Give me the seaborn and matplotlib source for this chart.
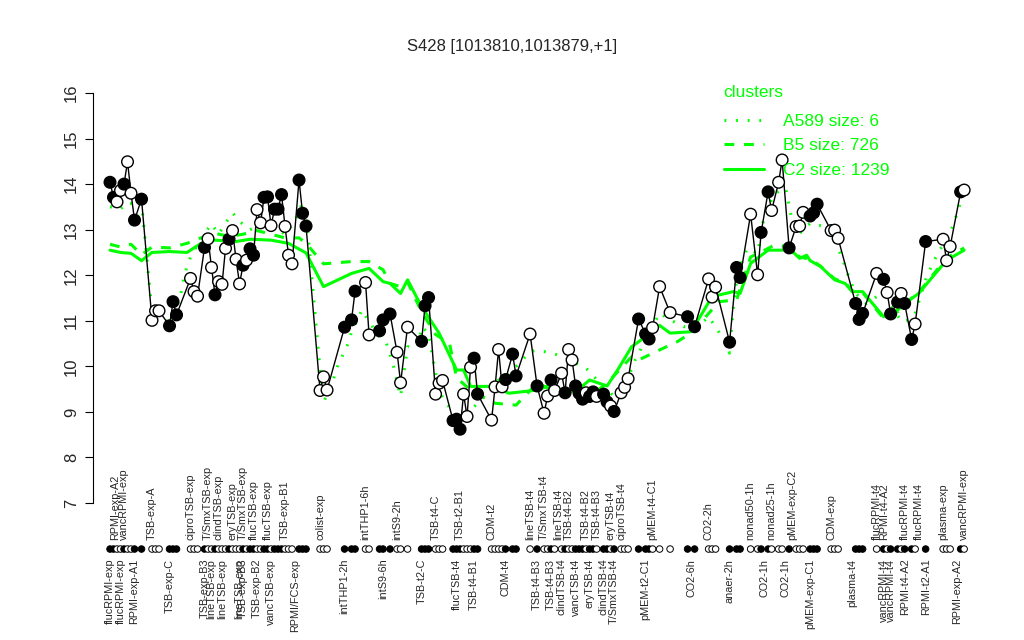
import matplotlib
matplotlib.use("Agg")
import matplotlib.pyplot as plt
import matplotlib.transforms as mtransforms
import pandas as pd
import seaborn as sns

# expression points: slot position, value, filled marker or not
slots = [0, 1, 2, 3, 4, 5, 6, 7, 9, 12, 13, 14, 17, 18, 19, 23, 24, 25,
         27, 28, 29, 30, 31, 32, 33, 34, 35, 36, 37, 38, 39, 40, 41, 42, 43, 44,
         45, 46, 47, 48, 49, 50, 51, 52, 54, 55, 56, 60, 61, 62, 67, 69, 70,
         73, 74, 77, 78, 80, 82, 83, 85, 89, 90, 91, 93, 94, 95, 98, 99, 100,
         101, 102, 103, 104, 105, 109, 110, 111, 112, 113, 115, 116, 120, 122,
         124, 125, 126, 127, 129, 130, 131, 132, 133, 134, 135, 136, 137, 138,
         139, 141, 142, 143, 144, 146, 147, 148, 151, 153, 154, 155, 157, 160,
         165, 167, 171, 172, 173, 177, 179, 180, 183, 185, 186, 188, 189, 191,
         192, 194, 196, 197, 198, 200, 201, 202, 206, 207, 208, 213, 214, 215,
         219, 221, 222, 223, 225, 226, 227, 229, 230, 233, 238, 239, 240, 243, 244]
values = [14.04, 13.71, 13.61, 13.86, 14.00, 14.49, 13.80, 13.21, 13.67, 11.01, 11.22, 11.22,
          10.89, 11.42, 11.13, 11.93, 11.64, 11.54,
          12.61, 12.80, 12.17, 11.57, 11.86, 11.80, 12.59, 12.79, 12.98, 12.35, 11.81, 12.22,
          12.33, 12.58, 12.44, 13.44, 13.15, 13.71,
          13.72, 13.09, 13.45, 13.45, 13.77, 13.07, 12.44, 12.25, 14.09, 13.36, 13.08, 9.47,
          9.77, 9.48, 10.86, 11.02, 11.65,
          11.84, 10.69, 10.78, 11.02, 11.15, 10.31, 9.64, 10.86, 10.55, 11.33, 11.51, 9.39,
          9.63, 9.69, 8.81, 8.84, 8.62,
          9.39, 8.90, 9.98, 10.18, 9.39, 8.82, 9.55, 10.37, 9.55, 9.71, 10.27, 9.79, 10.71, 9.57,
          8.97, 9.35, 9.70, 9.47, 9.85, 9.42, 10.37, 10.14, 9.57, 9.41, 9.28, 9.42, 9.34, 9.44,
          9.34, 9.39, 9.22, 9.13, 9.01, 9.42, 9.54, 9.73, 11.04, 10.71, 10.60, 10.85, 11.75, 11.18,
          11.09, 10.87, 11.92, 11.52, 11.74, 10.53, 12.17, 11.95, 13.34, 12.01, 12.94, 13.83,
          13.42, 14.04,
          14.53, 12.60, 13.07, 13.08, 13.38, 13.30, 13.37, 13.56, 12.98, 12.99, 12.81, 11.38,
          11.03, 11.16,
          12.04, 11.91, 11.62, 11.15, 11.41, 11.60, 11.38, 10.59, 10.93, 12.74, 12.79, 12.32,
          12.63, 13.83, 13.87]
filled = [1, 1, 0, 0, 1, 0, 0, 1, 1, 0, 0, 0, 1, 1, 1, 0, 0, 0,
          1, 0, 0, 1, 0, 0, 0, 1, 0, 0, 0, 1, 0, 1, 1, 0, 0, 1,
          1, 0, 1, 1, 1, 0, 0, 0, 1, 1, 1, 0, 0, 0, 1, 1, 1,
          0, 0, 1, 1, 1, 0, 0, 0, 1, 1, 1, 0, 0, 0, 1, 1, 1,
          0, 0, 0, 1, 1, 0, 0, 0, 0, 1, 1, 1, 0, 1,
          0, 0, 1, 0, 0, 1, 0, 0, 1, 1, 1, 0, 1, 1,
          0, 1, 1, 0, 1, 0, 0, 0, 1, 1, 1, 0, 0, 0,
          1, 1, 0, 0, 0, 1, 1, 1, 0, 0, 1, 1, 0, 0,
          0, 1, 0, 0, 0, 1, 1, 1, 0, 0, 0, 1, 1, 1,
          0, 1, 0, 1, 1, 0, 1, 1, 0, 1, 0, 0, 0, 1, 0]

# cluster mean profiles (slot, value)
c2_slots = [0, 3, 6, 9, 12, 17, 22, 26, 30, 36, 40, 46, 51, 56, 61, 69, 74, 78, 80, 83, 85,
            89, 94, 99, 101, 103, 109, 114, 122, 125, 129, 133, 137, 142, 145, 149, 153,
            157, 160, 166, 172, 178, 180, 183, 188, 192, 194, 197, 199, 200, 203, 207, 210,
            212, 215, 221, 225, 229, 231, 239, 244]
c2_values = [12.55, 12.5, 12.48, 12.32, 12.5, 12.52, 12.5, 12.7, 12.77, 12.74, 12.79, 12.77,
             12.7, 12.49, 11.75, 12.04, 12.15, 11.86, 11.82, 11.6, 11.9,
             11.31, 10.73, 9.92, 9.92, 9.56, 9.56, 9.41, 9.48, 9.56, 9.48, 9.44, 9.70, 9.57,
             9.92, 10.43, 10.65, 10.9, 10.73, 10.76, 11.53, 11.64, 11.6, 12.26, 12.55, 12.55,
             12.59, 12.37, 12.44, 12.32, 12.19, 11.9, 11.82, 11.64, 11.64, 11.09, 11.24,
             11.49, 11.6, 12.33, 12.55]
b5_slots = [0, 3, 6, 9, 12, 17, 22, 26, 30, 34, 38, 42, 46, 50, 54, 56, 61, 69, 74, 78, 80,
            83, 85, 89, 93, 97, 99, 103, 110, 116, 122, 126, 130, 137, 142, 149, 151, 157,
            162, 166, 174, 179, 183, 187, 190, 194, 197, 200, 203, 207, 210, 212, 215, 221,
            225, 229, 231, 239, 244]
b5_values = [12.68, 12.62, 12.68, 12.45, 12.62, 12.6, 12.7, 12.82, 12.92, 12.85, 12.9, 12.98,
             12.9, 12.82, 12.82, 12.7, 12.25, 12.3, 12.3, 12.12, 11.82,
             11.75, 11.85, 11.2, 10.7, 10.5, 9.75, 9.48, 9.19, 9.15, 9.63, 9.5, 9.48, 9.34,
             9.63, 10.21, 10.14, 10.36, 10.54, 10.73, 11.42, 11.46, 12.4, 12.55, 12.67, 12.62,
             12.4, 12.35, 12.2, 11.92, 11.84, 11.66, 11.62, 11.05, 11.2, 11.5, 11.62, 12.38,
             12.6]
a589_slots = [0, 3, 5, 7, 9, 12, 14, 17, 19, 20, 21, 22, 23, 26, 29, 31, 34, 35, 37, 40, 43,
              46, 48, 50, 53, 55, 56, 60, 61, 63, 65, 68, 69, 72, 74, 77, 79, 81, 83, 85,
              88, 89, 91, 93, 95, 99, 103, 108, 111, 113, 116, 120, 122, 126, 130, 133, 136,
              140, 144, 147, 150, 153, 157, 160, 164, 168, 171, 173, 176, 177, 178, 179, 180,
              182, 185, 187, 190, 193, 195, 197, 200, 204, 207, 209, 211, 213, 216, 219, 222,
              226, 228, 230, 233, 235, 237, 240, 242, 243]
a589_values = [13.5, 13.45, 13.6, 13.55, 13.6, 11.2, 11.0, 11.0, 11.3, 11.5, 11.9, 12.2, 12.4,
               12.8, 13.13, 12.9, 13.26, 13.37, 13.18, 13.0, 13.1,
               13.0, 13.0, 12.9, 13.2, 13.6, 13.4, 9.92, 9.22, 9.52, 10.0, 10.5, 10.76, 11.24,
               10.98, 10.65, 10.5, 10.0, 9.34, 10.43,
               10.43, 10.87, 10.73, 9.85, 9.3, 8.9, 9.04, 9.41, 9.7, 9.77, 10.0, 10.32, 10.36,
               10.29, 10.21, 10.07, 9.96,
               9.63, 9.34, 9.55, 10.14, 10.58, 11.17, 11.02, 10.87, 10.87, 11.09, 10.87, 10.5,
               10.29, 11.24, 11.9, 12.19,
               12.59, 12.48, 13.36, 13.8, 13.91, 13.14, 12.92, 13.14, 13.07, 12.74, 12.41,
               11.97, 11.6, 11.38, 11.53, 11.53,
               10.98, 11.02, 11.16, 11.9, 12.26, 12.55, 12.92, 13.36, 13.61]

# condition labels above and below the marker strip
upper_pos = [1.5, 4, 12, 23, 28, 31, 35, 38, 41, 45, 50, 60, 73, 82, 93, 100, 109, 120, 124,
             128, 131, 136, 139, 143, 146, 155, 171, 183, 189, 195, 206, 219, 221, 227, 231,
             238, 244]
upper_text = ["RPMI-exp-A2", "vancRPMI-exp", "TSB-exp-A", "ciproTSB-exp", "T/SmxTSB-exp",
              "clindTSB-exp", "eryTSB-exp", "T/SmxTSB-exp", "flucTSB-exp", "flucTSB-exp",
              "TSB-exp-B1", "colist-exp", "intTHP1-6h", "intS9-2h", "TSB-t4-C", "TSB-t2-B1",
              "CDM-t2", "lineTSB-t4", "T/SmxTSB-t4", "lineTSB-t4", "TSB-t4-B2", "TSB-t4-B2",
              "TSB-t4-B3", "eryTSB-t4", "ciproTSB-t4", "pMEM-t4-C1", "CO2-2h", "nonad50-1h",
              "nonad25-1h", "pMEM-exp-C2", "CDM-exp", "flucRPMI-t4", "RPMI-t4-A2",
              "flucRPMI-t4", "flucRPMI-t4", "plasma-exp", "vancRPMI-exp"]
lower_pos = [0, 3, 7, 17, 27, 29, 32, 37, 38, 42, 46, 53, 67, 78, 89, 99, 104, 113, 122, 126,
             129, 133, 137, 141, 144, 153, 166, 177, 187, 193, 200, 212, 221, 223, 227, 233, 242]
lower_text = ["flucRPMI-exp", "flucRPMI-exp", "RPMI-exp-A1", "TSB-exp-C", "TSB-exp-B3",
              "lineTSB-exp", "lineTSB-exp", "lineTSB-exp", "TSB-exp-B3", "TSB-exp-B2",
              "vancTSB-exp", "RPMI/FCS-exp", "intTHP1-2h", "intS9-6h", "TSB-t2-C",
              "flucTSB-t4", "TSB-t4-B1", "CDM-t4", "TSB-t4-B3", "TSB-t4-B3", "clindTSB-t4",
              "vancTSB-t4", "eryTSB-t4", "clindTSB-t4", "T/SmxTSB-t4", "pMEM-t2-C1", "CO2-6h",
              "anaer-2h", "CO2-1h", "CO2-1h", "pMEM-exp-C1", "plasma-t4", "vancRPMI-t4",
              "vancRPMI-t4", "RPMI-t4-A2", "RPMI-t2-A1", "RPMI-exp-A2"]

df = pd.DataFrame({"slot": slots, "value": values, "filled": [bool(f) for f in filled]})

sns.set_style("white")
plt.rcParams['font.family'] = ['Liberation Sans', 'DejaVu Sans']
GREEN = "#00FF00"

fig = plt.figure(figsize=(10.24, 6.4), dpi=100)
ax = fig.add_axes([93 / 1024, 1 - 520 / 640, 882 / 1024, 440 / 640])

# cluster lines
sns.lineplot(x=a589_slots, y=a589_values, ax=ax, color=GREEN, lw=2.2,
             linestyle=(0, (0.6, 3.2)), label="A589 size: 6")
sns.lineplot(x=b5_slots, y=b5_values, ax=ax, color=GREEN, lw=2.2,
             linestyle=(0, (3.2, 3.2)), label="B5 size: 726")
sns.lineplot(x=c2_slots, y=c2_values, ax=ax, color=GREEN, lw=2.2,
             label="C2 size: 1239")

# gene profile
sns.lineplot(data=df, x="slot", y="value", ax=ax, color="black", lw=1.0, legend=False)
sns.scatterplot(data=df, x="slot", y="value", hue="filled", ax=ax,
                palette={True: "black", False: "white"}, edgecolor="black",
                linewidth=1.0, s=70, legend=False, zorder=5)

# marker strip under the plot
strip = mtransforms.blended_transform_factory(ax.transData, ax.transAxes)
ax.scatter(df["slot"], [-0.066] * len(df), transform=strip, s=22, clip_on=False,
           c=["black" if f else "white" for f in df["filled"]], edgecolors="black",
           linewidths=0.7, zorder=5)
for p, t in zip(upper_pos, upper_text):
    ax.text(p, -0.046, t, transform=strip, rotation=90, ha="center", va="bottom", fontsize=7.8)
for p, t in zip(lower_pos, lower_text):
    ax.text(p, -0.088, t, transform=strip, rotation=90, ha="center", va="top", fontsize=7.8)

ax.set_xlim(-4.86, 247.1)
ax.set_ylim(6.628, 16.285)
ax.set_yticks(range(7, 17))
ax.set_xticks([])
ax.set_xlabel("")
ax.set_ylabel("")
for side in ["top", "right", "bottom"]:
    ax.spines[side].set_visible(False)
ax.spines["left"].set_bounds(7, 16)
ax.spines["left"].set_color("black")
ax.tick_params(axis="y", left=True, length=6, width=0.8, labelsize=12, pad=4, color="black")
for lab in ax.get_yticklabels():
    lab.set_rotation(90)
    lab.set_va("center")

leg = ax.legend(loc="upper left", bbox_to_anchor=(715 / 1024, 1 - 76 / 640),
                bbox_transform=fig.transFigure, frameon=False, title="clusters",
                fontsize=12.5, title_fontsize=12.5, labelcolor=GREEN, handlelength=2.3,
                handletextpad=1.1, labelspacing=0.55, borderpad=0, alignment="left")
leg.get_title().set_color(GREEN)
leg._legend_box.sep = 10

fig.text(0.5, 1 - 47 / 640, "S428 [1013810,1013879,+1]", ha="center", va="center",
         fontsize=12)

fig.savefig("out.png", dpi=100)
